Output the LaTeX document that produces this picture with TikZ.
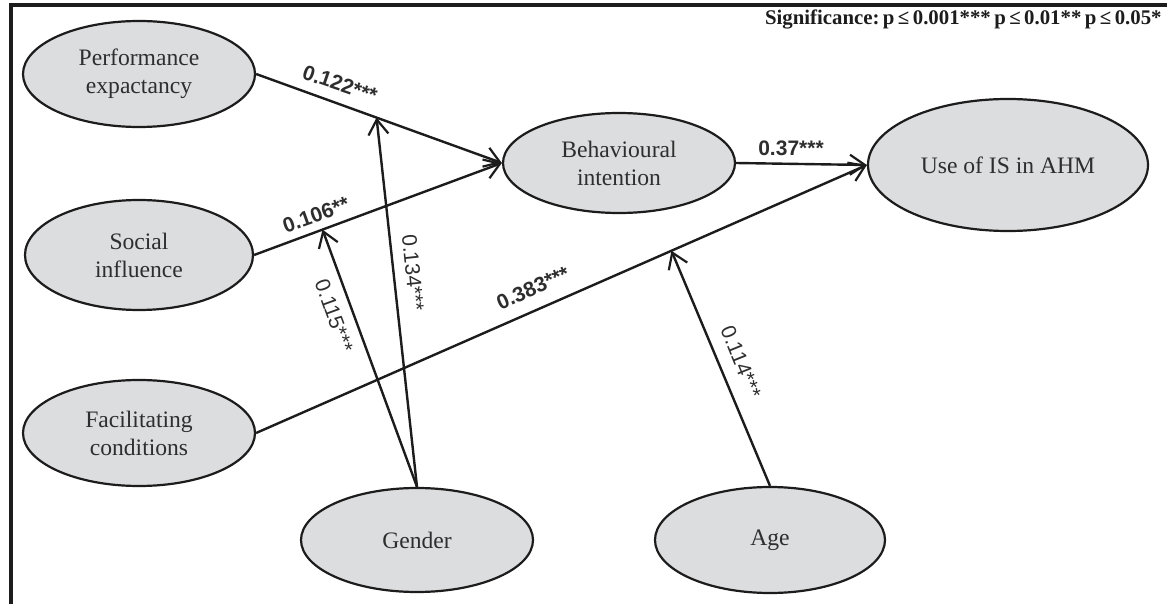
\documentclass[tikz,border=0pt]{standalone}
\usepackage{fontspec}
\setmainfont{Liberation Serif}
\newfontfamily\labelfont{Liberation Sans}
\usetikzlibrary{shapes.geometric,arrows.meta}
\definecolor{ovalfill}{HTML}{DCDDDF}
\definecolor{ink}{HTML}{1C1C1C}
\definecolor{txt}{HTML}{2E2E2E}
\tikzset{
  construct/.style={ellipse, draw=ink, line width=1.1pt, fill=ovalfill, inner sep=0pt,
    align=center, text=txt, font=\fontsize{11.8}{14}\selectfont},
  conn/.style={draw=ink, line width=1.2pt, -{Straight Barb[length=7.5pt,width=10pt,line width=1.1pt]}},
  coef/.style={text=txt, inner sep=1pt, font=\labelfont\fontsize{10.5}{12}\selectfont},
  coefbold/.style={coef, font=\labelfont\bfseries\fontsize{10.5}{12}\selectfont},
  frameline/.style={draw=ink, line width=2pt}
}
\begin{document}
\begin{tikzpicture}[x=0.5pt, y=-0.5pt]
  \useasboundingbox (0,0) rectangle (1167,604);
  % open frame: top and left rules
  \draw[frameline] (1167,5) -- (11,5) -- (11,604);

  % constructs
  \node[construct, minimum width=116pt, minimum height=53pt] (PE) at (139,74) {Performance\\expactancy};
  \node[construct, minimum width=114pt, minimum height=55pt] (SI) at (139,255) {Social\\influence};
  \node[construct, minimum width=116pt, minimum height=53pt] (FC) at (139,433) {Facilitating\\conditions};
  \node[construct, minimum width=116pt, minimum height=50pt] (BI) at (619,163) {Behavioural\\intention};
  \node[construct, minimum width=140pt, minimum height=66pt] (Use) at (1008,165) {Use of IS in AHM};
  \node[construct, minimum width=116pt, minimum height=52pt] (Gender) at (417,540) {Gender};
  \node[construct, minimum width=115pt, minimum height=53pt] (Age) at (770,540) {Age};

  % direct paths
  \draw[conn] (PE.east) -- coordinate[pos=0.49] (m1) (BI.west);
  \draw[conn] (SI.east) -- coordinate[pos=0.276] (m2) (BI.west);
  \draw[conn] (BI.east) -- (Use.west);
  \draw[conn] (FC.east) -- coordinate[pos=0.68] (m3) (Use.west);

  % moderating paths
  \draw[conn] (Gender.north) -- (m1);
  \draw[conn] (Gender.north) -- (m2);
  \draw[conn] (Age.north) -- (m3);

  % path coefficients
  \node[coefbold, rotate=-19] (c122) at (340,84) {0.122***};
  \node[coefbold, rotate=19.6] (c106) at (316,215) {0.106**};
  \node[coefbold] (c37) at (791,148) {0.37***};
  \node[coefbold, rotate=24] (c383) at (533,288) {0.383***};
  \node[coef, rotate=-84] (c134) at (413,273) {0.134***};
  \node[coef, rotate=-70] (c115) at (334,316) {0.115***};
  \node[coef, rotate=-68] (c114) at (741,362) {0.114***};

  % significance key
  \node[anchor=base east, inner sep=0pt, text=ink, font=\bfseries\fontsize{10.4}{12}\selectfont] (key) at (1162,25)
    {Significance:\,p\,≤\,0.001***\,p\,≤\,0.01**\,p\,≤\,0.05*};
\end{tikzpicture}
\end{document}
